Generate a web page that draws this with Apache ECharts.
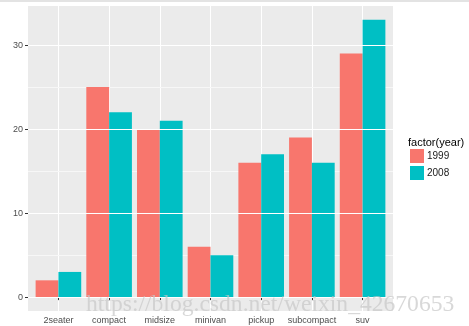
<!DOCTYPE html>
<html><head><meta charset="utf-8">
<script src="https://cdn.jsdelivr.net/npm/echarts@6/dist/echarts.min.js"></script>
<style>html,body{margin:0;padding:0;background:#fff}#c{width:469px;height:326px}</style>
</head><body><div id="c"></div>
<script>
const categories = ['2seater','compact','midsize','minivan','pickup','subcompact','suv'];
const years = ['1999','2008'];
const count1999 = [2,25,20,6,16,19,29];
const count2008 = [3,22,21,5,17,16,33];
const yTicks = [0,10,20,30];
const yMinor = [5,15,25];

const pos = categories.map((c,i)=>i+1);
const chart = echarts.init(document.getElementById('c'));
const font = 'Liberation Sans, Arial, sans-serif';
chart.setOption({
  animation:false,
  textStyle:{fontFamily:font},
  grid:{left:28,right:76,top:6,bottom:15,show:true,backgroundColor:'#EBEBEB',borderWidth:0,containLabel:false,outerBoundsMode:'none'},
  legend:{
    data:years, orient:'vertical', left:410, top:149, itemWidth:14, itemHeight:14, itemGap:3,
    icon:'rect', textStyle:{fontSize:10,color:'#1a1a1a',fontFamily:font,padding:[0,0,0,-2]}, padding:0
  },
  graphic:[
    {type:'text', left:408, top:137, style:{text:'factor(year)', fontSize:11, fill:'#000', fontFamily:font}},
    {type:'rect', shape:{x:0,y:0,width:469,height:2}, style:{fill:'#E3E3E3'}},
    {type:'text', left:86, top:293, z:100, style:{text:'https://blog.csdn.net/weixin_42670653', fontSize:23.6, fill:'rgba(200,200,200,0.7)', fontFamily:'Liberation Serif, DejaVu Serif, serif'}}
  ],
  xAxis:{
    type:'value', min:0.4, max:7.6,
    axisLine:{show:false},
    axisTick:{show:true, length:3, lineStyle:{color:'#333'}, customValues:pos},
    axisLabel:{customValues:pos, formatter:v=>categories[Math.round(v)-1]||'', fontSize:9, color:'#4D4D4D', margin:5},
    splitLine:{show:true, lineStyle:{color:'#fff', width:1}}
  },
  yAxis:[{
    type:'value', min:-1.65, max:34.65, z:3,
    name:'count', nameLocation:'middle', nameRotate:90, nameGap:17,
    nameTextStyle:{fontSize:11,color:'#000'},
    axisLine:{show:false},
    axisTick:{show:true, length:3, lineStyle:{color:'#333'}, customValues:yTicks},
    axisLabel:{customValues:yTicks, fontSize:9, color:'#4D4D4D', margin:5},
    splitLine:{show:true, lineStyle:{color:'#fff', width:1}}
  },{
    type:'value', min:-1.65, max:34.65, position:'left', z:2,
    axisLine:{show:false}, axisLabel:{show:false, customValues:yMinor},
    axisTick:{show:true, length:0, lineStyle:{color:'rgba(0,0,0,0)'}, customValues:yMinor},
    splitLine:{show:true, lineStyle:{color:'#F7F7F7', width:1}}
  }],
  series:[
    {name:years[0], type:'bar', barWidth:22.8, barGap:'0%', itemStyle:{color:'#F8766D'},
     data:pos.map((x,i)=>[x,count1999[i]])},
    {name:years[1], type:'bar', barWidth:22.8, barGap:'0%', itemStyle:{color:'#00BFC4'},
     data:pos.map((x,i)=>[x,count2008[i]])}
  ]
});
</script></body></html>
